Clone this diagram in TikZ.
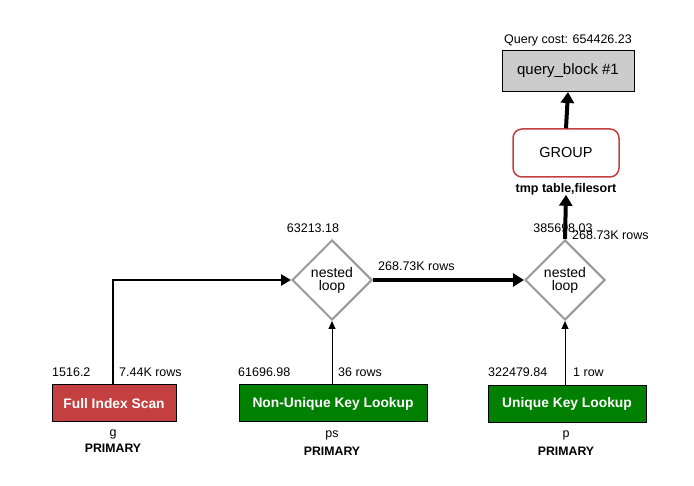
\documentclass[tikz,border=0pt]{standalone}
\usepackage{fontspec}
\setmainfont{Liberation Sans}
\usetikzlibrary{shapes.geometric,arrows.meta}
\definecolor{scanred}{HTML}{C44040}
\definecolor{lookgreen}{HTML}{008000}
\definecolor{dgray}{HTML}{999999}
\definecolor{bgray}{HTML}{CCCCCC}
\begin{document}
\begin{tikzpicture}[x=1pt,y=-1pt,
  lbl/.style={font=\fontsize{12.5}{14}\selectfont, inner sep=0pt, anchor=base west},
  lblc/.style={font=\fontsize{12.5}{14}\selectfont, inner sep=0pt, anchor=base},
  blbl/.style={font=\fontsize{12.3}{14}\selectfont\bfseries, inner sep=0pt, anchor=base},
  opbox/.style={draw=black, line width=1pt, font=\fontsize{13.8}{15}\selectfont\bfseries, text=white, inner sep=0pt, minimum height=37pt},
  loopd/.style={diamond, draw=dgray, line width=2pt, fill=white, minimum width=80pt, minimum height=80pt, inner sep=0pt, align=center, font=\fontsize{14}{13}\selectfont},
  thickarr/.style={line width=4pt, -{Triangle[length=11pt,width=13pt]}},
  midarr/.style={line width=2.5pt, -{Triangle[length=10pt,width=11pt]}},
  thinarr/.style={line width=1pt, -{Triangle[length=8pt,width=7pt]}},
]
\useasboundingbox (0,0) rectangle (694,486);
% top
\node[draw=black, line width=1pt, fill=bgray, minimum width=132pt, minimum height=41pt, inner sep=0pt, font=\fontsize{15}{17}\selectfont] (qb) at (568,71) {query\_block \#1};
\node[lblc] (qcost) at (568,44) {Query cost: 654426.23};
\node[draw=scanred, line width=1.5pt, rounded corners=9pt, fill=white, minimum width=106pt, minimum height=48pt, inner sep=0pt, font=\fontsize{14.5}{16}\selectfont] (grp) at (566,153) {GROUP};
\node[blbl, font=\fontsize{12.5}{14}\selectfont\bfseries] (tmp) at (566,193) {tmp table,filesort};
% diamonds
\node[loopd] (d1) at (332,280) {nested\\loop};
\node[loopd] (d2) at (565,280) {nested\\loop};
\node[lblc] (c1) at (313,233) {63213.18};
% bottom boxes
\node[opbox, fill=scanred, minimum width=124pt] (fis) at (114,403.5) {Full Index Scan};
\node[opbox, fill=lookgreen, minimum width=188pt] (nukl) at (333,403.5) {Non-Unique Key Lookup};
\node[opbox, fill=lookgreen, minimum width=158pt] (ukl) at (567,404) {Unique Key Lookup};
% connectors
\draw[thickarr] (grp.north) -- (qb.south);
\draw[thickarr] (d2.north) -- ([yshift=1pt]tmp.south);
\draw[thickarr] (d1.east) -- (d2.west);
\draw[midarr] ([xshift=-1pt]fis.north) |- (d1.west);
\draw[thinarr] (nukl.north -| d1.south) -- (d1.south);
\draw[thinarr] (ukl.north -| d2.south) -- (d2.south);
% labels
\node[lblc] (c2) at (563,233) {385698.03};
\node[lbl] (r2) at (572,240) {268.73K rows};
\node[lbl] (r1) at (378,271) {268.73K rows};
\node[lbl] (fc) at (52,377) {1516.2};
\node[lbl] (fr) at (119,377) {7.44K rows};
\node[lbl] (nc) at (238,377) {61696.98};
\node[lbl] (nr) at (338,377) {36 rows};
\node[lbl] (uc) at (488,377) {322479.84};
\node[lbl] (ur) at (573,377) {1 row};
\node[lblc] (ft) at (113,436) {g};
\node[blbl] (fk) at (113,453) {PRIMARY};
\node[lblc] (nt) at (332,438) {ps};
\node[blbl] (nk) at (332,456) {PRIMARY};
\node[lblc] (ut) at (566,438) {p};
\node[blbl] (uk) at (566,456) {PRIMARY};
\end{tikzpicture}
\end{document}
